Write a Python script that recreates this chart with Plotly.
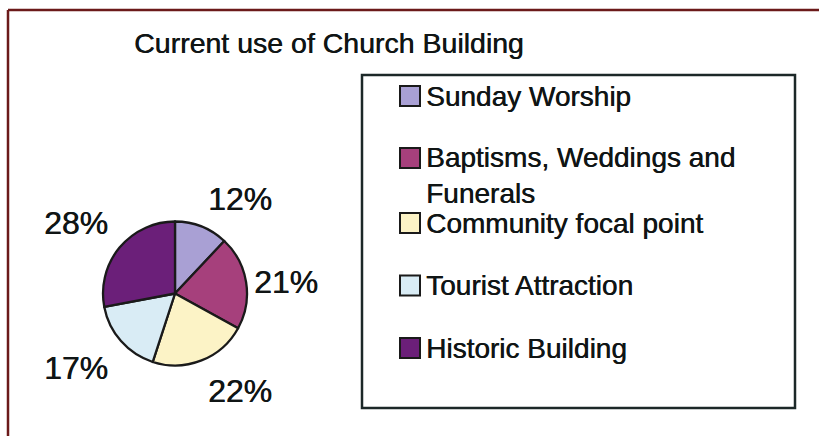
import plotly.graph_objects as go

# Survey: current use of the church building
categories = ["Sunday Worship", "Baptisms, Weddings and Funerals",
              "Community focal point", "Tourist Attraction", "Historic Building"]
legend_text = ["Sunday Worship", "Baptisms, Weddings and<br>Funerals",
               "Community focal point", "Tourist Attraction", "Historic Building"]
shares = [12, 21, 22, 17, 28]
colors = ["#a9a0d4", "#a6407c", "#fcf3c6", "#d9ecf5", "#6b1f79"]

W, H = 819, 436
FONT = "Liberation Sans, Arial, Helvetica, sans-serif"
INK = "#101515"
HEAVY = "0.5px 0px 0px #101515"


def px(x):
    return x / W


def py(y):
    return 1 - y / H


# pie placement (pixels)
cx, cy, r = 175, 293.5, 72

fig = go.Figure(go.Pie(
    labels=categories,
    values=shares,
    sort=False,
    direction="clockwise",
    marker=dict(colors=colors, line=dict(color="#1a1a1a", width=2.3)),
    textinfo="none",
    hoverinfo="label+percent",
    showlegend=False,
    domain=dict(x=[px(cx - r), px(cx + r)], y=[py(cy + r), py(cy - r)]),
))

shapes = []
annotations = []

# outer frame (top and left edges visible)
shapes.append(dict(type="line", xref="paper", yref="paper",
                   x0=px(8), y0=py(10), x1=1.0, y1=py(10),
                   line=dict(color="#6b1a1a", width=2.5)))
shapes.append(dict(type="line", xref="paper", yref="paper",
                   x0=px(8), y0=py(10), x1=px(8), y1=0,
                   line=dict(color="#6b1a1a", width=2.5)))

# title
annotations.append(dict(xref="paper", yref="paper", x=px(132), y=py(43),
                        xanchor="left", yanchor="middle", showarrow=False,
                        text="Current use of Church Building",
                        font=dict(family=FONT, size=28.5, color=INK, shadow=HEAVY)))

# percentage labels around the pie
label_pos = [(240, 199), (286, 282), (240, 391), (76, 368), (76, 223)]
for v, (lx, ly) in zip(shares, label_pos):
    annotations.append(dict(xref="paper", yref="paper", x=px(lx), y=py(ly),
                            xanchor="center", yanchor="middle", showarrow=False,
                            text=f"{v}%",
                            font=dict(family=FONT, size=32, color=INK, shadow=HEAVY)))

# legend box
shapes.append(dict(type="rect", xref="paper", yref="paper",
                   x0=px(362), y0=py(408), x1=px(795), y1=py(75),
                   line=dict(color="#1c2828", width=2.5), fillcolor="rgba(0,0,0,0)"))

item_y = [96, 158, 223, 285.5, 348]
for name, col, yy in zip(legend_text, colors, item_y):
    shapes.append(dict(type="rect", xref="paper", yref="paper",
                       x0=px(400), y0=py(yy + 10), x1=px(420), y1=py(yy - 10),
                       line=dict(color="#1a1a1a", width=2), fillcolor=col))
    annotations.append(dict(xref="paper", yref="paper", x=px(424), y=py(yy),
                            xanchor="left", yanchor="top" if "<br>" in name else "middle",
                            yshift=18 if "<br>" in name else 0,
                            showarrow=False, align="left", text=name,
                            font=dict(family=FONT, size=28, color=INK, shadow=HEAVY)))

fig.update_layout(
    width=W, height=H,
    margin=dict(l=0, r=0, t=0, b=0),
    paper_bgcolor="white", plot_bgcolor="white",
    shapes=shapes, annotations=annotations,
)

fig.write_html("out.html")
